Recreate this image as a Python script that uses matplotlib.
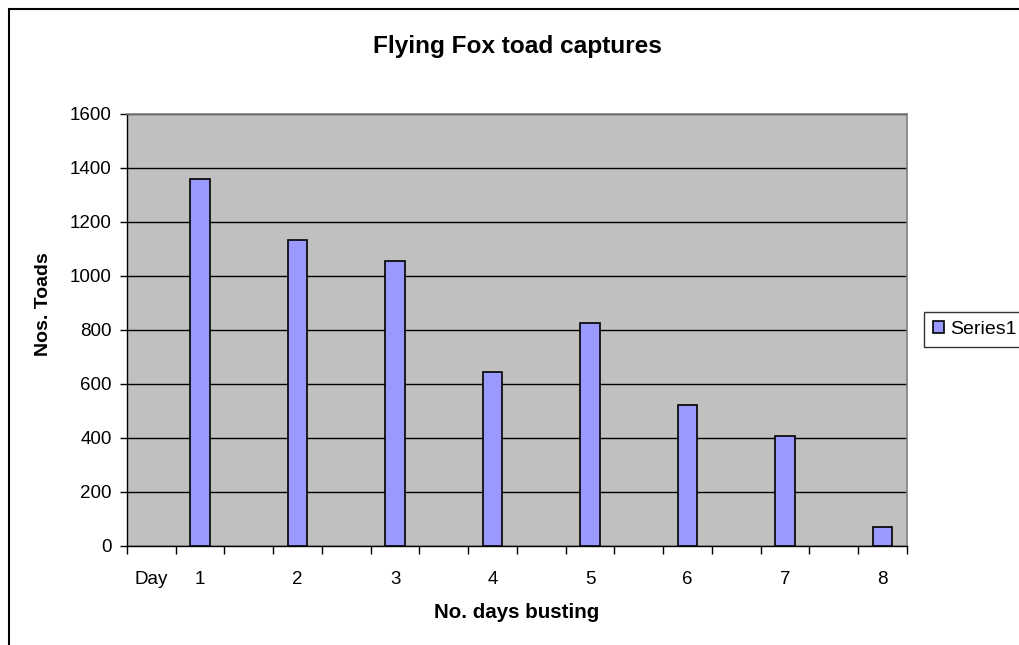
import numpy as np
import matplotlib
matplotlib.use('Agg')
import matplotlib.pyplot as plt
from matplotlib.patches import Rectangle

plt.rcParams['font.family'] = ['Liberation Sans', 'DejaVu Sans']

# categories as laid out in the sheet (blank columns between days)
categories = ['Day', '1', '', '2', '', '3', '', '4', '', '5', '', '6', '', '7', '', '8']
toads = [np.nan, 1358, np.nan, 1132, np.nan, 1057, np.nan, 643, np.nan,
         825, np.nan, 523, np.nan, 407, np.nan, 70]
yticks = [0, 200, 400, 600, 800, 1000, 1200, 1400, 1600]

W, H = 1020, 645
fig = plt.figure(figsize=(W / 100, H / 100), dpi=100)
ax = fig.add_axes([127 / W, (H - 546) / H, (907 - 127) / W, (546 - 114) / H])
ax.set_facecolor('#C0C0C0')

x = np.arange(len(categories))
bars = ax.bar(x, toads, width=0.4, color='#9999FF', edgecolor='black',
              linewidth=1.2, label='Series1', zorder=3)

ax.set_xlim(-0.5, len(categories) - 0.5)
ax.set_ylim(0, 1600)
ax.set_yticks(yticks)
ax.yaxis.grid(True, color='black', linewidth=1, zorder=1)

# tick marks on the category borders, labels in the middle
ax.set_xticks(np.arange(-0.5, len(categories)), labels=[])
ax.set_xticks(x, labels=categories, minor=True)
ax.tick_params(axis='x', which='major', direction='out', length=6, width=1, color='black')
ax.tick_params(axis='x', which='minor', length=0, pad=18, labelsize=13.5)
ax.tick_params(axis='y', direction='out', length=5, width=1, labelsize=13.5, pad=6)

for s in ['top', 'right']:
    ax.spines[s].set_color('#808080')
    ax.spines[s].set_linewidth(1.2)
for s in ['left', 'bottom']:
    ax.spines[s].set_color('black')
    ax.spines[s].set_linewidth(1)

fig.text(517 / W, 1 - 47 / H, 'Flying Fox toad captures', ha='center', va='center',
         fontsize=17.6, fontweight='bold')
fig.text(517 / W, 1 - 613 / H, 'No. days busting', ha='center', va='center',
         fontsize=14.8, fontweight='bold')
fig.text(44 / W, 1 - 304 / H, 'Nos. Toads', ha='center', va='center', rotation=90,
         fontsize=14, fontweight='bold')

leg = fig.legend(handles=[bars], labels=['Series1'], loc='upper left',
                 bbox_to_anchor=(924 / W, 1 - 312 / H), fontsize=14,
                 frameon=True, fancybox=False, handlelength=0.6, handleheight=0.6,
                 handletextpad=0.3, borderpad=0.45, borderaxespad=0)
leg.get_frame().set_edgecolor('black')
leg.get_frame().set_linewidth(1)

# outer chart border (cut off at right and bottom)
fig.patches.append(Rectangle((9 / W, -0.1), 1.2, 1.1 - 9 / H, transform=fig.transFigure,
                             fill=False, edgecolor='black', linewidth=1.5))

fig.savefig('out.png', dpi=100)
